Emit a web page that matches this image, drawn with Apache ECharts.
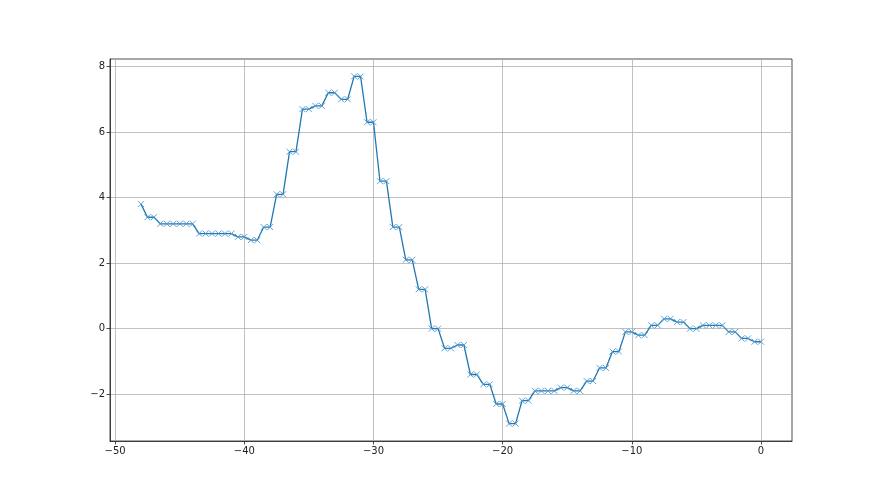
<!DOCTYPE html>
<html>
<head>
<meta charset="utf-8">
<script src="https://cdn.jsdelivr.net/npm/echarts@6/dist/echarts.min.js"></script>
<style>html,body{margin:0;padding:0;background:#fff}#c{width:880px;height:495px}</style>
</head>
<body>
<div id="c"></div>
<script>
const xs = [-48,
  -47.5,-47,-46.5,-46,-45.5,-45,-44.5,-44,-43.5,-43,-42.5,-42,-41.5,-41,
  -40.5,-40,-39.5,-39,-38.5,-38,-37.5,-37,-36.5,-36,-35.5,-35,-34.5,-34,-33.5,-33,-32.5,-32,-31.5,-31,
  -30.5,-30,-29.5,-29,-28.5,-28,-27.5,-27,-26.5,-26,-25.5,-25,-24.5,-24,-23.5,-23,-22.5,-22,-21.5,-21,
  -20.5,-20,-19.5,-19,-18.5,-18,-17.5,-17,-16.5,-16,-15.5,-15,-14.5,-14,-13.5,-13,-12.5,-12,-11.5,-11,
  -10.5,-10,-9.5,-9,-8.5,-8,-7.5,-7,-6.5,-6,-5.5,-5,-4.5,-4,-3.5,-3,-2.5,-2,-1.5,-1,-0.5,0];
const ys = [3.8,
  3.4,3.4,3.2,3.2,3.2,3.2,3.2,3.2,2.9,2.9,2.9,2.9,2.9,2.9,
  2.8,2.8,2.7,2.7,3.1,3.1,4.1,4.1,5.4,5.4,6.7,6.7,6.8,6.8,7.2,7.2,7.0,7.0,7.7,7.7,
  6.3,6.3,4.5,4.5,3.1,3.1,2.1,2.1,1.2,1.2,0.0,0.0,-0.6,-0.6,-0.5,-0.5,-1.4,-1.4,-1.7,-1.7,
  -2.3,-2.3,-2.9,-2.9,-2.2,-2.2,-1.9,-1.9,-1.9,-1.9,-1.8,-1.8,-1.9,-1.9,-1.6,-1.6,-1.2,-1.2,-0.7,-0.7,
  -0.1,-0.1,-0.2,-0.2,0.1,0.1,0.3,0.3,0.2,0.2,0.0,0.0,0.1,0.1,0.1,0.1,-0.1,-0.1,-0.3,-0.3,-0.4,-0.4];
const xTicks = [-50,-40,-30,-20,-10,0];
const yTicks = [-2,0,2,4,6,8];

const data = xs.map((x,i)=>[x, ys[i]]);
const fmt = v => String(v).replace('-', '\u2212');
const chart = echarts.init(document.getElementById('c'), null, {renderer:'canvas'});
const axisCommon = {
  axisLine:{show:true,onZero:false,lineStyle:{color:'#222',width:0.8}},
  axisTick:{show:true,length:3.5,lineStyle:{color:'#222',width:0.8}},
  axisLabel:{color:'#222',fontFamily:'DejaVu Sans',fontSize:10,margin:5,formatter:fmt},
  splitLine:{show:true,lineStyle:{color:'#b0b0b0',width:0.8}}
};
chart.setOption({
  animation:false,
  backgroundColor:'#fff',
  grid:{left:110,right:88,top:59,bottom:54,show:true,borderColor:'#222',borderWidth:0.8,backgroundColor:'transparent'},
  xAxis:Object.assign({type:'value',min:-50.4,max:2.4}, JSON.parse(JSON.stringify(axisCommon)), {
    axisTick:Object.assign({},axisCommon.axisTick,{customValues:xTicks}),
    axisLabel:Object.assign({},axisCommon.axisLabel,{customValues:xTicks,formatter:fmt})
  }),
  yAxis:Object.assign({type:'value',min:-3.43,max:8.23}, JSON.parse(JSON.stringify(axisCommon)), {
    axisTick:Object.assign({},axisCommon.axisTick,{customValues:yTicks}),
    axisLabel:Object.assign({},axisCommon.axisLabel,{customValues:yTicks,formatter:fmt})
  }),
  series:[{
    type:'line',
    data:data,
    lineStyle:{color:'#1f77b4',width:1.3},
    symbol:'path://M0,0L10,10M10,0L0,10',
    symbolSize:6,
    showAllSymbol:true,
    itemStyle:{color:'rgba(0,0,0,0)',borderColor:'#4f97d0',borderWidth:0.9},
    emphasis:{disabled:true}
  }]
});
</script>
</body>
</html>
